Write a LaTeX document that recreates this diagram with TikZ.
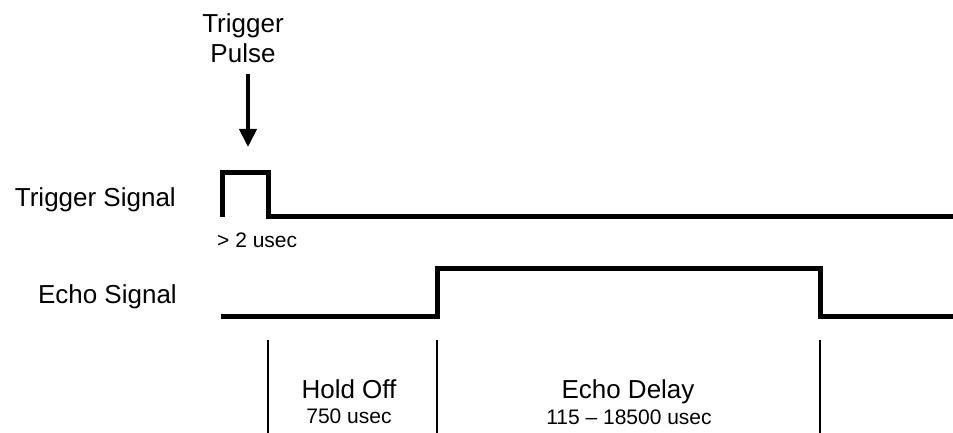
\documentclass[tikz,border=0pt]{standalone}
\usepackage{fontspec}
\setmainfont{Liberation Sans}
\usetikzlibrary{arrows.meta}
\tikzset{
    wave/.style={line width=5pt},
    marker/.style={line width=1.6pt},
    biglabel/.style={inner sep=0pt, font=\fontsize{26}{30}\selectfont},
    smalllabel/.style={inner sep=0pt, font=\fontsize{21}{25}\selectfont},
    pulsearrow/.style={line width=4pt, -{Triangle[length=18pt, width=17pt]}}
}

\begin{document}
\begin{tikzpicture}[x=1pt, y=-1pt]
\useasboundingbox (0,0) rectangle (953,433);
% labels
\node[biglabel, align=center, anchor=north] (pulse) at (243,13) {Trigger\\Pulse};
\node[biglabel, anchor=base east] (trigsig) at (176,206) {Trigger Signal};
\node[biglabel, anchor=base east] (echosig) at (177,303) {Echo Signal};
\node[smalllabel, anchor=base west] (width) at (217,247) {> 2 usec};
\node[biglabel, anchor=base] (hold) at (349,398) {Hold Off};
\node[smalllabel, anchor=base] (holdtime) at (349,423) {750 usec};
\node[biglabel, anchor=base] (delay) at (628,398) {Echo Delay};
\node[smalllabel, anchor=base] (delaytime) at (629,424) {115 -- 18500 usec};
% waveforms
\coordinate (tip) at (248,147);
\draw[pulsearrow, shorten <=12pt] (pulse.south -| tip) -- (tip);
\draw[wave] (222,217) -- (222,172) -- (268,172) -- (268,216) -- (953,216);
\draw[wave] (221,316) -- (437,316) -- (437,268) -- (820,268) -- (820,316) -- (953,316);
\foreach \x in {268,437,820}
    \draw[marker] (\x,340) -- (\x,433);
\end{tikzpicture}
\end{document}
